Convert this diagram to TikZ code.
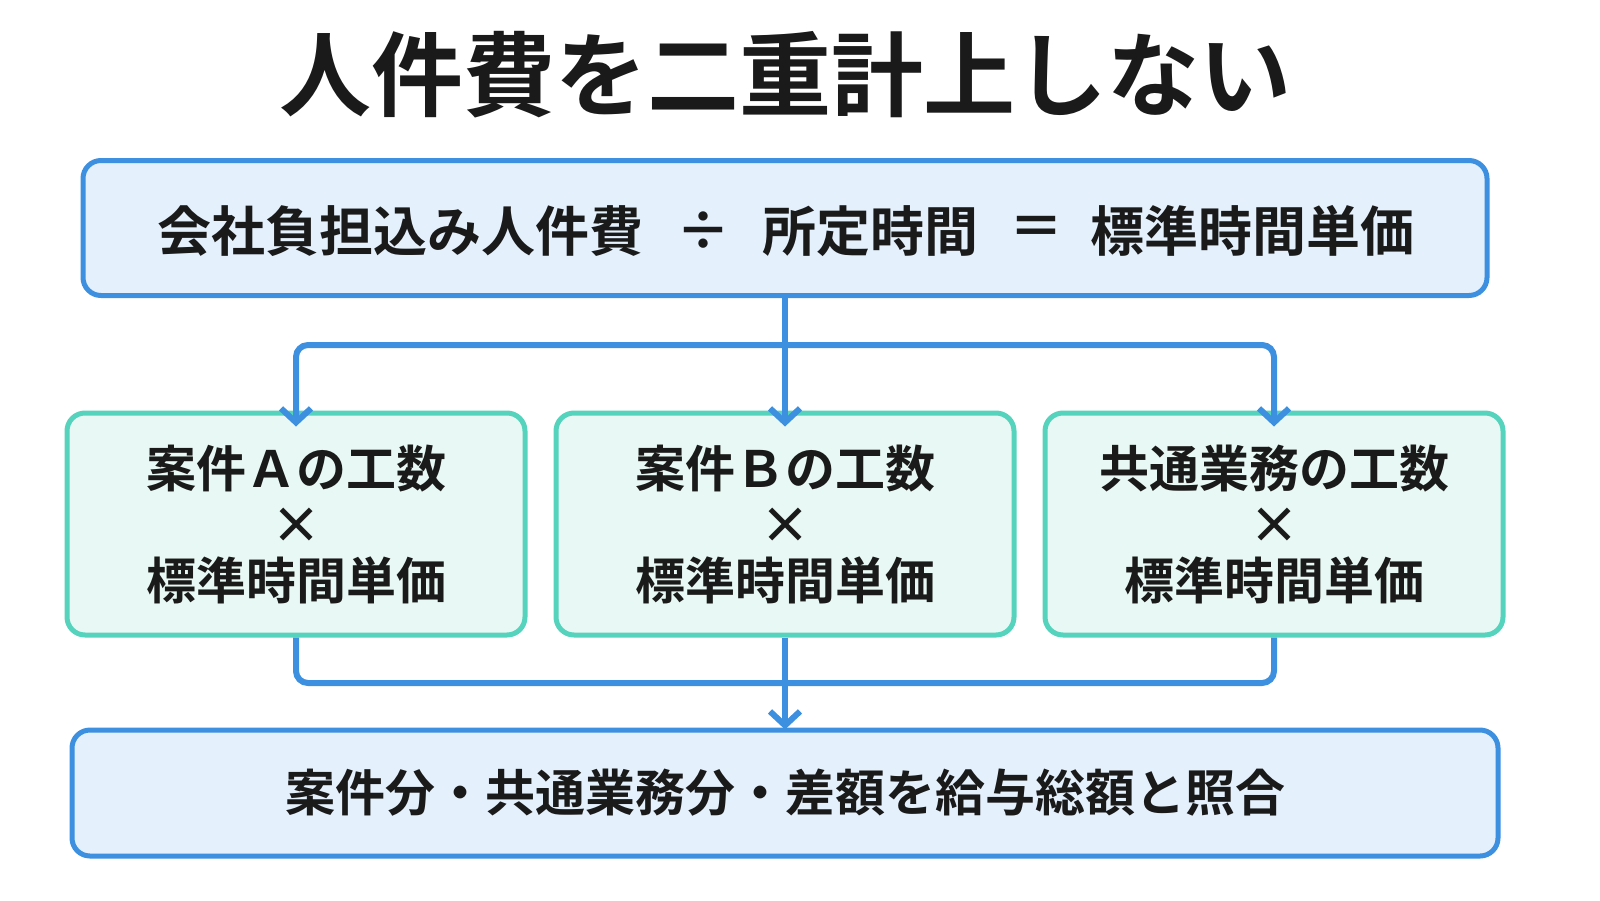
\documentclass[tikz,border=0pt]{standalone}
\usepackage{fontspec}
\setmainfont{Noto Sans CJK JP}[BoldFont={Noto Sans CJK JP Bold}]
\usetikzlibrary{arrows.meta}
\definecolor{lineblue}{HTML}{3D8FDF}
\definecolor{fillblue}{HTML}{E4F0FC}
\definecolor{lineteal}{HTML}{56D3BC}
\definecolor{fillteal}{HTML}{E8F8F4}
\definecolor{ink}{HTML}{1A1A1A}
\tikzset{
  bluebox/.style={draw=lineblue, fill=fillblue, line width=2.5pt, rounded corners=9pt, inner sep=0pt},
  tealbox/.style={draw=lineteal, fill=fillteal, line width=2.5pt, rounded corners=9pt, inner sep=0pt,
    minimum width=229pt, minimum height=111pt, align=center, font=\bfseries\fontsize{25}{28}\selectfont, text=ink},
  rtext/.style={font=\bfseries\fontsize{27}{30}\selectfont, text=ink},
  flow/.style={draw=lineblue, line width=3pt, rounded corners=6pt},
  tip/.style={-{Straight Barb[length=7pt, width=15pt, line width=3pt]}}
}
\begin{document}
\begin{tikzpicture}[x=0.5pt, y=-0.5pt]
\useasboundingbox (0,0) rectangle (1600,900);
\node[font=\bfseries\fontsize{46}{50}\selectfont, text=ink] (title) at (785,75) {人件費を二重計上しない};
\node[bluebox, minimum width=702pt, minimum height=67.5pt] (rate) at (785,228) {};
\node[rtext] (r1) at (400,231) {会社負担込み人件費};
\node[rtext] (r2) at (703,231) {÷};
\node[rtext] (r3) at (870,231) {所定時間};
\node[rtext] (r4) at (1036,231) {＝};
\node[rtext] (r5) at (1252,231) {標準時間単価};
\node[tealbox] (caseA) at (296,524) {案件Ａの工数\\×\\標準時間単価};
\node[tealbox] (caseB) at (785,524) {案件Ｂの工数\\×\\標準時間単価};
\node[tealbox] (common) at (1274,524) {共通業務の工数\\×\\標準時間単価};
\node[bluebox, minimum width=713pt, minimum height=63pt, font=\bfseries\fontsize{25}{28}\selectfont, text=ink] (check) at (785,793) {案件分・共通業務分・差額を給与総額と照合};
% split
\coordinate (split) at (785,345);
\draw[flow] (rate.south) -- (split);
\draw[flow, tip] (split) -| ([yshift=-8pt]caseA.north);
\draw[flow, tip] (split) -| ([yshift=-8pt]common.north);
\draw[flow, tip] (split) -- ([yshift=-8pt]caseB.north);
% merge
\coordinate (merge) at (785,683);
\draw[flow] (caseA.south) |- (merge) -| (common.south);
\draw[flow, tip] (caseB.south) -- ([yshift=-1pt]check.north);
\end{tikzpicture}
\end{document}
